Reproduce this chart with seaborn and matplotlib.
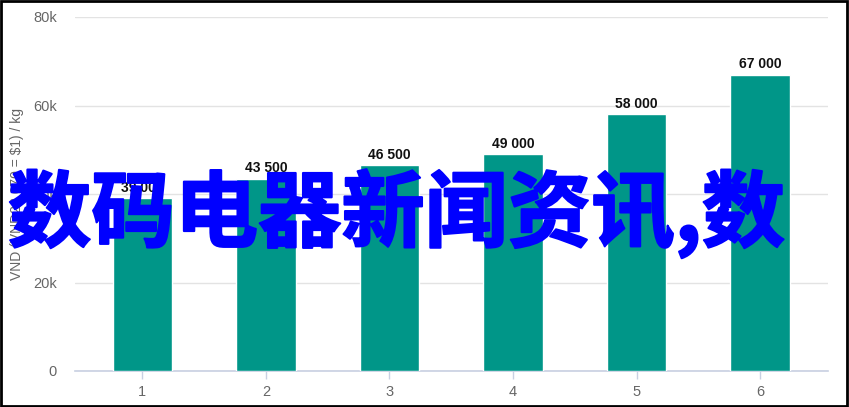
import matplotlib
matplotlib.use("Agg")
import matplotlib.pyplot as plt
import matplotlib.patheffects as pe
import seaborn as sns
import pandas as pd

categories = ["1", "2", "3", "4", "5", "6"]
values = [39000, 43500, 46500, 49000, 58000, 67000]
value_labels = ["39 000", "43 500", "46 500", "49 000", "58 000", "67 000"]
y_ticks = [0, 20000, 40000, 60000, 80000]
y_tick_labels = ["0", "20k", "40k", "60k", "80k"]
y_label = "VND (VND23 670 = $1) / kg"
overlay = "数码电器新闻资讯,数"

sns.set_theme(style="white")
plt.rcParams['font.family'] = ['Liberation Sans', 'DejaVu Sans']

df = pd.DataFrame({"cat": categories, "val": values})

fig = plt.figure(figsize=(8.49, 4.07), dpi=100)
ax = fig.add_axes([75/849, 1-371/407, (828-75)/849, (371-17)/407])

sns.barplot(data=df, x="cat", y="val", color="#009688", saturation=1,
            width=0.48, ax=ax, zorder=3)

ax.set_xlim(-0.545, 5.55)
ax.set_ylim(0, 80000)
ax.set_yticks(y_ticks)
ax.set_yticklabels(y_tick_labels)
ax.yaxis.grid(True, color="#e3e3e3", linewidth=1, zorder=0)
ax.set_axisbelow(True)
for s in ["top", "right", "left"]:
    ax.spines[s].set_visible(False)
ax.spines["bottom"].set_color("#c8d0e2")
ax.spines["bottom"].set_linewidth(1.2)
ax.tick_params(axis="x", colors="#c8d0e2", length=6, width=1, labelcolor="#666666",
               labelsize=10.5, pad=4, bottom=True, direction="out")
ax.tick_params(axis="y", length=0, labelcolor="#666666", labelsize=10.5, pad=13)
ax.set_xlabel("")
ax.set_ylabel(y_label, color="#666666", fontsize=10, labelpad=6)
ax.yaxis.set_label_coords(-0.068, 0.5)

for i, (v, lab) in enumerate(zip(values, value_labels)):
    ax.text(i, v + 700, lab, ha="center", va="bottom", fontsize=10,
            fontweight="bold", color="#111111", zorder=5)

fig.text(8/849, 1-214/407, overlay, ha="left", va="center", fontsize=60,
         fontweight="bold", color="#0000ff",
         family=["Noto Sans CJK SC", "DejaVu Sans"], zorder=10,
         path_effects=[pe.withStroke(linewidth=1.5, foreground="#0000ff")])

fig.patches.append(plt.Rectangle((0.001, 0.002), 0.997, 0.995, transform=fig.transFigure,
                                 fill=False, edgecolor="black", linewidth=2))

fig.savefig("out.png", dpi=100)
